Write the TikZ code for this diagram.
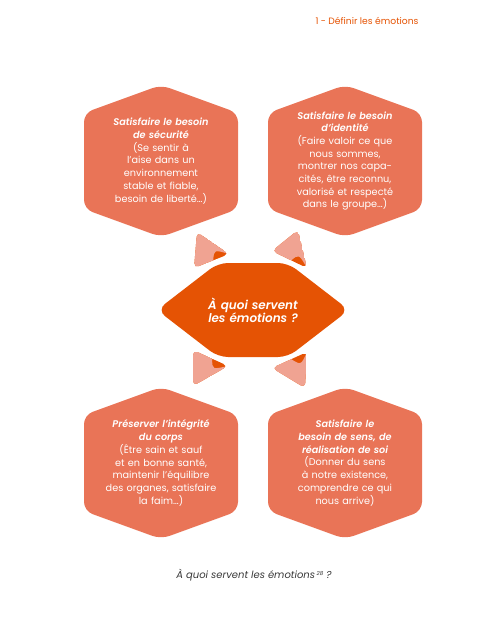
\documentclass[tikz,border=0pt]{standalone}
\usepackage{fontspec}
\setmainfont{Poppins}[BoldFont={Poppins SemiBold},BoldItalicFont={Poppins SemiBold Italic}]
\usetikzlibrary{calc}
\definecolor{hexorange}{RGB}{233,116,87}
\definecolor{deeporange}{RGB}{229,83,4}
\definecolor{paleorange}{RGB}{240,163,146}
\definecolor{captiongray}{RGB}{55,55,55}

\begin{document}
\begin{tikzpicture}[x=1pt,y=-1pt,
  hexfill/.style={fill=hexorange, rounded corners=9pt},
  hextext/.style={
    text=white,
    text width=145pt,
    align=center,
    inner sep=0pt,
    font=\fontsize{9.7}{12.7}\selectfont
  }
]
\useasboundingbox (0,0) rectangle (484,627);

% centres
\coordinate (secu) at (161,161);
\coordinate (iden) at (345,161);
\coordinate (corps) at (161,463);
\coordinate (sens) at (345,463);
\coordinate (emo) at (253,310);

\foreach \c in {secu,iden,corps,sens}
  \fill[hexfill] ($(\c)+(0,-76)$) -- ++(77,28) -- ++(0,96) -- ++(-77,28)
    -- ++(-77,-28) -- ++(0,-96) -- cycle;
\fill[fill=deeporange, rounded corners=10pt] ($(emo)+(-96,0)$) -- ++(61,-47)
  -- ++(70,0) -- ++(61,47) -- ++(-61,47) -- ++(-70,0) -- cycle;

% small curled arrows
\foreach \p/\q/\r in {{197,232}/{194,268}/{229,254}, {298,230}/{272,251}/{307,268},
    {193,386}/{193,350}/{228,366}, {305,388}/{272,368}/{307,352}}{
  \coordinate (a1) at (\p);
  \coordinate (a2) at (\q);
  \coordinate (a3) at (\r);
  \begin{scope}
    \clip[rounded corners=5pt] (a1) -- (a2) -- (a3) -- cycle;
    \fill[deeporange] (a1) -- (a2) -- (a3) -- cycle;
    \fill[paleorange] (a1) -- (a2) -- ($(a3)!0.45!(a2)$)
      .. controls ($($(a3)!0.22!(a2)$)!0.3!(a1)$) .. (a3) -- cycle;
  \end{scope}
}

\node[hextext] (secutxt) at (secu) {{\bfseries\itshape Satisfaire le besoin\\ de sécurité}\\
  (Se sentir à\\ l’aise dans un\\ environnement\\ stable et fiable,\\ besoin de liberté…)};
\node[hextext] (identxt) at (iden) {{\bfseries\itshape Satisfaire le besoin\\ d’identité}\\
  (Faire valoir ce que\\ nous sommes,\\ montrer nos capa-\\ cités, être reconnu,\\
  valorisé et respecté\\ dans le groupe…)};
\node[hextext] (corpstxt) at (corps) {{\bfseries\itshape Préserver l’intégrité\\ du corps}\\
  (Être sain et sauf\\ et en bonne santé,\\ maintenir l’équilibre\\
  des organes, satisfaire\\ la faim…)};
\node[hextext] (senstxt) at (sens) {{\bfseries\itshape Satisfaire le\\ besoin de sens, de\\
  réalisation de soi}\\ (Donner du sens\\ à notre existence,\\ comprendre ce qui\\ nous arrive)};
\node[hextext, font=\bfseries\itshape\fontsize{12}{13.3}\selectfont] (emotxt) at (emo)
  {À quoi servent\\ les émotions ?};

\node[anchor=east, text=deeporange, font=\fontsize{9.2}{10}\selectfont] (titre) at (422,21)
  {1 - Définir les émotions};
\node[text=captiongray, font=\itshape\fontsize{10}{11}\selectfont] (legende) at (254,575)
  {À quoi servent les émotions\,\raisebox{0.5ex}{\fontsize{5.5}{6}\selectfont 28} ?};
\end{tikzpicture}
\end{document}
